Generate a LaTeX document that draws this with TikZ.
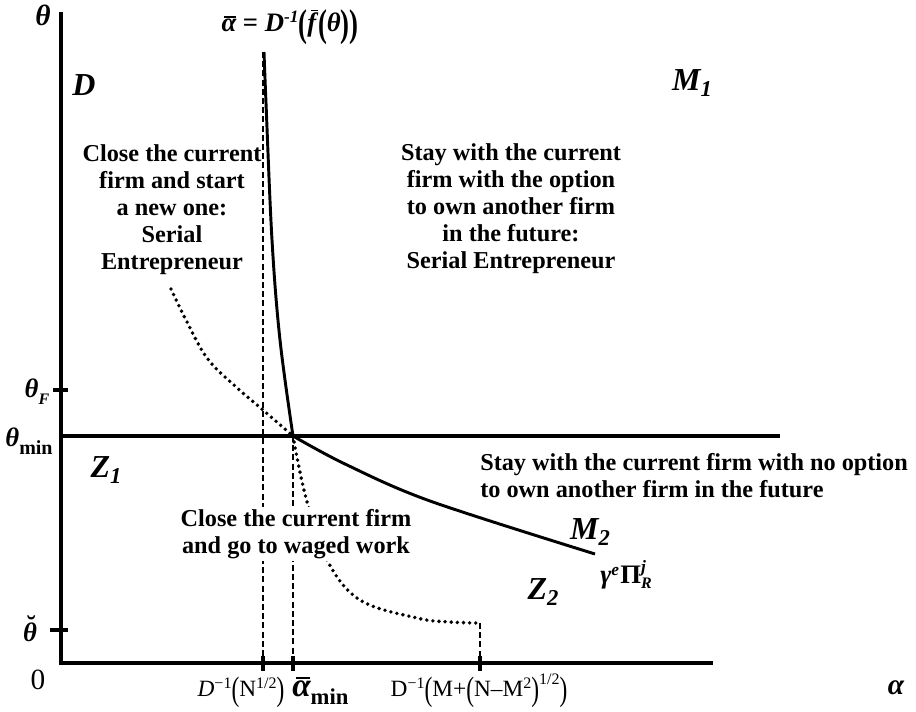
\documentclass[tikz,border=0pt]{standalone}
\usepackage{fontspec}
\usepackage{graphicx}
\setmainfont{Liberation Serif}
\newcommand\bi[1]{{\bfseries\itshape #1}}
\newcommand\bgp[1]{\raisebox{-0.18em}{\scalebox{1}[1.45]{#1}}}
\newsavebox\ovbox
\newcommand\ovl[3][0pt]{\sbox\ovbox{#3}\vbox{\offinterlineskip\hbox{\kern#1\rule{#2}{1.4pt}}\kern1.3pt\copy\ovbox}}
\newcommand\brv[1]{\sbox\ovbox{#1}\vbox{\offinterlineskip\hbox to \wd\ovbox{\hss\kern2pt\bfseries ˘\hss}\kern-9pt\copy\ovbox}}
\begin{document}
\begin{tikzpicture}[x=0.75pt,y=-0.75pt,
  axis/.style={line width=2.3pt},
  dashv/.style={line width=1.8pt, dash pattern=on 4.5pt off 2.4pt},
  dotc/.style={line width=2.9pt, dash pattern=on 0pt off 4.6pt, line cap=round},
  curv/.style={line width=2.2pt},
  lbl/.style={font=\fontsize{18.2}{20.25}\selectfont\bfseries, align=center, inner sep=0pt},
  big/.style={font=\fontsize{24}{28}\selectfont, inner sep=0pt},
  tl/.style={font=\fontsize{20}{24}\selectfont, inner sep=0pt},
  bl/.style={font=\fontsize{17.5}{20}\selectfont, inner sep=0pt}]
\useasboundingbox (0,0) rectangle (916,712);
% dashed guides
\draw[dashv] (263,52) -- (263,663);
\draw[dashv] (293,436) -- (293,663);
\draw[dashv] (480,623) -- (480,663);
% dotted curves
\draw[dotc] plot[smooth, tension=0.6] coordinates {(171,289) (185,318) (207,358) (235,386) (263,410) (293,436)};
\draw[dotc] plot[smooth, tension=0.6] coordinates {(293,436) (306,498) (327,560) (360,600) (417,618) (450,622) (480,623)};
% solid curves
\draw[curv] plot[smooth, tension=0.6] coordinates {(264,52) (266,103) (272,240) (280,340) (293,436)};
\draw[curv] plot[smooth, tension=0.55] coordinates {(293,436) (345,464) (430,501) (595,554)};
% axes
\draw[axis] (61,12) -- (61,663) -- (713,663);
\draw[axis] (61,436) -- (780,436);
\draw[axis] (53,390) -- (68,390);
\draw[axis] (50,630) -- (68,630);
\draw[axis] (263,656) -- (263,671);
\draw[axis] (293,656) -- (293,671);
\draw[axis] (480,656) -- (480,671);
% axis labels
\node[tl] (th) at (43,15) {\fontsize{22}{24}\selectfont\bi{θ}};
\node[tl] (al) at (896,688) {\fontsize{22}{24}\selectfont\bi{α}};
\node[tl] (zero) at (38,680) {\fontsize{22}{24}\selectfont 0};
\node[tl] (thF) at (37,392) {\bi{θ}\raisebox{-5pt}{\fontsize{12}{12}\selectfont\bi{F}}};
\node[tl] (thmin) at (29,441) {\bi{θ}\raisebox{-6pt}{\fontsize{15}{15}\selectfont\bfseries min}};
\node[tl, anchor=base] (thb) at (30,641) {\brv{\bi{θ}}};
% region labels
\node[big] (D) at (84,85) {\bi{D}};
\node[big] (M1) at (692,83) {\bi{M\raisebox{-5pt}{\fontsize{17}{17}\selectfont 1}}};
\node[big] (Z1) at (106,470) {\bi{Z\raisebox{-5pt}{\fontsize{17}{17}\selectfont 1}}};
\node[big] (Z2) at (543,592) {\bi{Z\raisebox{-5pt}{\fontsize{17}{17}\selectfont 2}}};
\node[big] (M2) at (590,532) {\bi{M\raisebox{-5pt}{\fontsize{17}{17}\selectfont 2}}};
\node[tl,anchor=west] (gam) at (600,575) {\bi{γ}\raisebox{6pt}{\fontsize{13}{13}\selectfont\bi{e}}\kern1pt\textbf{Π}\rlap{\raisebox{8pt}{\fontsize{13}{13}\selectfont\bi{j}}}\raisebox{-4pt}{\fontsize{12}{12}\selectfont\bi{R}}};
% top label
\node[tl, anchor=base] (abar) at (290,32) {\bfseries \ovl[2pt]{9pt}{\bi{α}} = \bi{D}\raisebox{7pt}{\fontsize{13}{13}\selectfont\bi{-1}}\bgp{(}\ovl[3pt]{5pt}{\bi{f}}\bgp{(}\bi{θ}\bgp{)}\bgp{)}};
% texts
\node[lbl] (t1) at (172,210) {Close the current\\firm and start\\a new one:\\Serial\\Entrepreneur};
\node[lbl] (t2) at (511,209) {Stay with the current\\firm with the option\\to own another firm\\in the future:\\Serial Entrepreneur};
\node[lbl, align=left, anchor=west] (t3) at (480,476) {Stay with the current firm with no option\\to own another firm in the future};
\node[lbl, fill=white, inner sep=2pt] (t4) at (296,534) {Close the current firm\\and go to waged work};
% bottom labels
\node[bl, anchor=base] (x1) at (241,696) {\textit{D}\raisebox{6pt}{\fontsize{12}{12}\selectfont −1}\bgp{(}N\raisebox{6pt}{\fontsize{12}{12}\selectfont 1/2}\bgp{)}};
\node[bl, anchor=base west] (x2) at (292,696) {\ovl[2.5pt]{11pt}{\fontsize{25}{26}\selectfont\bi{α}}\raisebox{-6pt}{\fontsize{17}{17}\selectfont\bfseries min}};
\node[bl, anchor=base] (x3) at (479,696) {D\raisebox{6pt}{\fontsize{12}{12}\selectfont −1}\bgp{(}M+\bgp{(}N–M\raisebox{6pt}{\fontsize{12}{12}\selectfont 2}\bgp{)}\raisebox{9pt}{\fontsize{12}{12}\selectfont 1/2}\bgp{)}};
\end{tikzpicture}
\end{document}
